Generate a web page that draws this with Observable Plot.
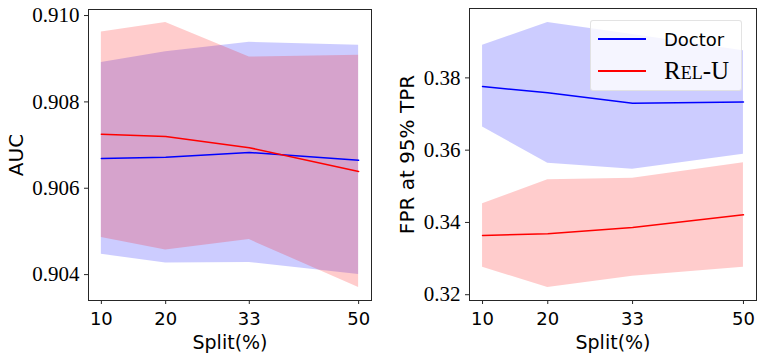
<!DOCTYPE html>
<html><head><meta charset="utf-8">
<script src="https://cdn.jsdelivr.net/npm/d3@7"></script>
<script src="https://cdn.jsdelivr.net/npm/@observablehq/plot@0.6"></script>
<style>
body{margin:0;background:#fff;}
#wrap{position:relative;width:762px;height:363px;}
#left,#right{position:absolute;top:0;}
#left{left:0;} #right{left:380px;}
#legend{position:absolute;left:590px;top:20px;width:152px;height:71px;background:rgba(255,255,255,0.8);border:1px solid rgba(220,220,220,0.8);border-radius:3px;box-sizing:border-box;}
#legend .row{position:absolute;left:7px;height:24px;display:flex;align-items:center;}
#legend .sw{width:48px;height:2px;margin-right:18px;}
#legend .lab{font-size:18px;color:#000;white-space:nowrap;}
</style>
</head><body>
<div id="wrap"><div id="left"></div><div id="right"></div>
<div id="legend">
  <div class="row" style="top:6px"><div class="sw" style="background:#0000ff"></div><span class="lab" style="font-family:'DejaVu Sans'">Doctor</span></div>
  <div class="row" style="top:38px"><div class="sw" style="background:#ff0000"></div><span class="lab" style="font-family:'Liberation Serif';font-variant:small-caps;font-size:25px">Rel-U</span></div>
</div>
</div>
<script>
const splits = [10, 20, 33, 50];
const methods = ["Doctor", "Rel-U"];
const colors = ["blue", "red"];

const aucDoctorMean = [0.90669, 0.90672, 0.90683, 0.90665];
const aucDoctorLow  = [0.90447, 0.90427, 0.90428, 0.90400];
const aucDoctorHigh = [0.90891, 0.90916, 0.90938, 0.90931];
const aucRelMean    = [0.90725, 0.90720, 0.90694, 0.90639];
const aucRelLow     = [0.90486, 0.90457, 0.90481, 0.90370];
const aucRelHigh    = [0.90962, 0.90984, 0.90904, 0.90908];

const fprDoctorMean = [0.3776, 0.3759, 0.3730, 0.3733];
const fprDoctorLow  = [0.3664, 0.3564, 0.3547, 0.3589];
const fprDoctorHigh = [0.3890, 0.3953, 0.3920, 0.3875];
const fprRelMean    = [0.3364, 0.3369, 0.3386, 0.3421];
const fprRelLow     = [0.3276, 0.3220, 0.3251, 0.3276];
const fprRelHigh    = [0.3452, 0.3518, 0.3522, 0.3565];

const aucTicks = [0.904, 0.906, 0.908, 0.910];
const fprTicks = [0.32, 0.34, 0.36, 0.38];

function rows(mean, low, high) {
  return splits.map((s, i) => ({split: s, mean: mean[i], low: low[i], high: high[i]}));
}

function panel({width, ml, mr, mt, ydomain, series, yticks, yfmt, ylabel, ylabelDx}) {
  const marks = [];
  series.forEach((d, i) => marks.push(Plot.areaY(d, {x: "split", y1: "low", y2: "high", fill: colors[i], fillOpacity: 0.2})));
  series.forEach((d, i) => marks.push(Plot.line(d, {x: "split", y: "mean", stroke: colors[i], strokeWidth: 1.5})));
  marks.push(Plot.frame({stroke: "#262626", strokeWidth: 1}));
  marks.push(Plot.axisX({ticks: splits, tickSize: 4, text: null, label: null, stroke: "#262626"}));
  marks.push(Plot.axisY({ticks: yticks, tickSize: 4, text: null, label: null, stroke: "#262626"}));
  marks.push(Plot.text(splits, {x: d => d, frameAnchor: "bottom", dy: 19, lineAnchor: "middle", textAnchor: "middle", text: d => String(d), fontSize: 18, fontFamily: "DejaVu Sans", fill: "#000"}));
  marks.push(Plot.text(yticks, {y: d => d, frameAnchor: "left", dx: -9, lineAnchor: "middle", textAnchor: "end", text: yfmt, fontSize: 21, fontFamily: "Liberation Serif", fill: "#000"}));
  marks.push(Plot.text(["Split(%)"], {frameAnchor: "bottom", dy: 42, lineAnchor: "middle", textAnchor: "middle", fontSize: 19, fontFamily: "DejaVu Sans", fill: "#000"}));
  marks.push(Plot.text([ylabel], {frameAnchor: "left", dx: ylabelDx, rotate: -90, lineAnchor: "middle", textAnchor: "middle", fontSize: 20, fontFamily: "DejaVu Sans", fill: "#000"}));
  return Plot.plot({
    width, height: 363, marginLeft: ml, marginRight: mr, marginTop: mt, marginBottom: 63,
    style: {background: "transparent", color: "#000"},
    x: {domain: [8, 52]},
    y: {domain: ydomain},
    marks
  });
}

document.getElementById("left").appendChild(panel({
  width: 380, ml: 88, mr: 9, mt: 9,
  ydomain: [0.90340, 0.91014],
  series: [rows(aucDoctorMean, aucDoctorLow, aucDoctorHigh), rows(aucRelMean, aucRelLow, aucRelHigh)],
  yticks: aucTicks, yfmt: d3.format(".3f"), ylabel: "AUC", ylabelDx: -72
}));
document.getElementById("right").appendChild(panel({
  width: 382, ml: 89, mr: 6, mt: 8,
  ydomain: [0.3184, 0.3992],
  series: [rows(fprDoctorMean, fprDoctorLow, fprDoctorHigh), rows(fprRelMean, fprRelLow, fprRelHigh)],
  yticks: fprTicks, yfmt: d3.format(".2f"), ylabel: "FPR at 95% TPR", ylabelDx: -62
}));
</script>
</body></html>
